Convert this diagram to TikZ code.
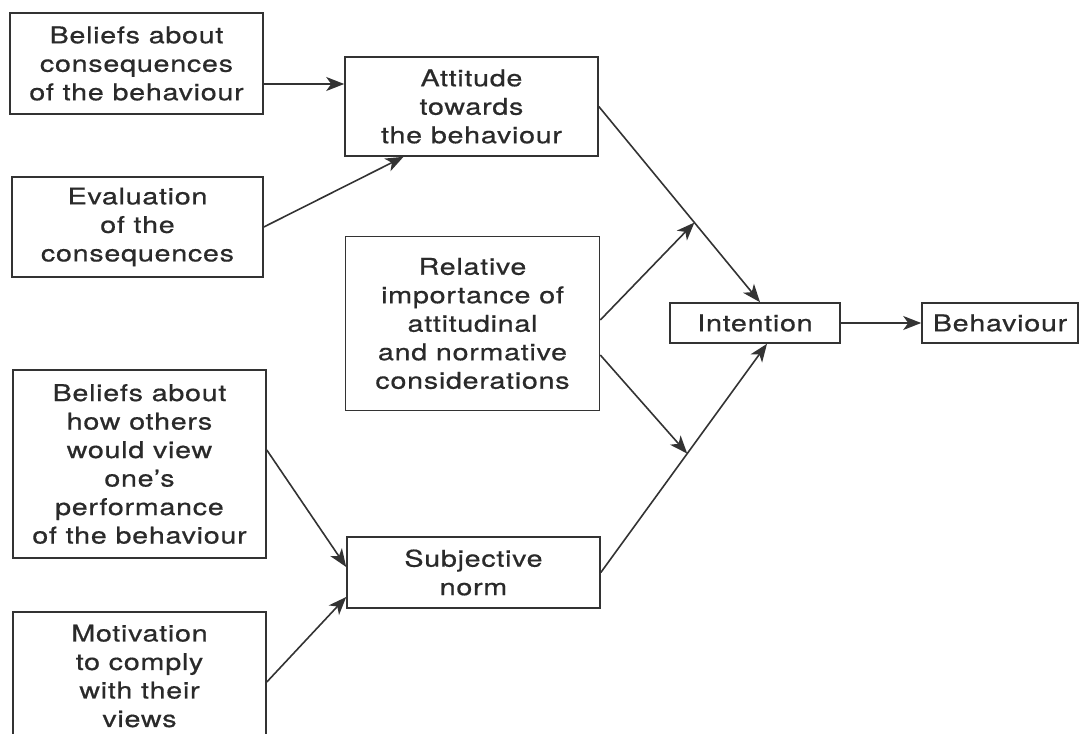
\documentclass[tikz,border=0pt]{standalone}
\usepackage{fontspec}
\setmainfont{TeX Gyre Heros}[FakeStretch=1.25, LetterSpace=3, FakeBold=0.6]
\usetikzlibrary{arrows.meta,calc}
\definecolor{linec}{HTML}{333333}
\definecolor{textc}{HTML}{2A2A2A}
\begin{document}
\begin{tikzpicture}[x=1pt,y=-1pt,
  >={Stealth[length=18pt,width=14pt,inset=5pt]},
  box/.style={draw=linec, line width=1.6pt, inner sep=0pt, align=center,
    text=textc, font=\fontsize{23}{28.5}\selectfont},
  arr/.style={draw=linec, line width=1.6pt, ->}]
\useasboundingbox (0,0) rectangle (1083,733);

\node[box, minimum width=253pt, minimum height=101pt] (b1) at (136.5,63.5)
  {Beliefs about\\consequences\\of the behaviour};
\node[box, minimum width=253pt, minimum height=99pt] (att) at (471.5,106.5)
  {Attitude\\towards\\the behaviour};
\node[box, minimum width=251pt, minimum height=100pt] (ev) at (137.5,227)
  {Evaluation\\of the\\consequences};
\node[box, minimum width=254pt, minimum height=174pt] (rel) at (472.5,323.5)
  {Relative\\importance of\\attitudinal\\and normative\\considerations};
\node[box, minimum width=170pt, minimum height=40pt] (int) at (755,323)
  {Intention};
\node[box, minimum width=156pt, minimum height=40pt] (beh) at (1000,323)
  {Behaviour};
\node[box, minimum width=253pt, minimum height=188pt] (bo) at (139.5,464)
  {Beliefs about\\how others\\would view\\one’s\\performance\\of the behaviour};
\node[box, minimum width=253pt, minimum height=71pt] (sn) at (473.5,572.5)
  {Subjective\\norm};
\node[box, minimum width=253pt, minimum height=128pt] (mot) at (139.5,676)
  {Motivation\\to comply\\with their\\views};

% connectors
\draw[arr] ([yshift=-20.5pt]b1.east) -- ([yshift=-20.5pt]b1.east -| att.west);
\draw[arr] (ev.east) -- ([xshift=-68pt]att.south);

\coordinate (it) at ([xshift=5pt]int.north);
\coordinate (ib) at ([xshift=12pt]int.south);
\coordinate (m1) at ($(att.east)!0.593!(it)$);
\coordinate (m2) at ($(sn.east)!0.52!(ib)$);

\draw[arr] (att.east) -- (it);
\draw[arr] (sn.east) -- (ib);
\draw[arr] ([yshift=3.5pt]rel.east) -- (m1);
\draw[arr] ([yshift=-31.5pt]rel.east) -- (m2);
\draw[arr] (int.east) -- (beh.west);

\draw[arr] ([yshift=14pt]bo.east) -- ([yshift=5.5pt]sn.west);
\draw[arr] ([yshift=-6pt]mot.east) -- ([yshift=-24.5pt]sn.west);
\end{tikzpicture}
\end{document}
